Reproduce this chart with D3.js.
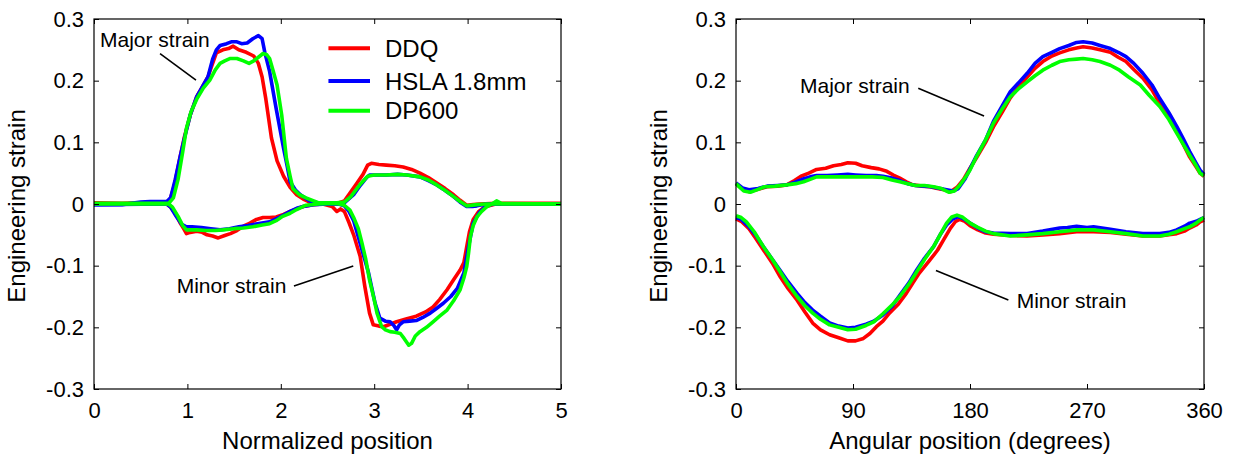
<!DOCTYPE html>
<html><head><meta charset="utf-8">
<script src="https://cdn.jsdelivr.net/npm/d3@7"></script>
<style>
html,body{margin:0;padding:0;background:#fff;}
text{font-family:"Liberation Sans",Arial,Helvetica,sans-serif;fill:#000;}
</style></head>
<body><svg id="chart" width="1239" height="456"></svg>
<script>
// ---------- data ----------
const seriesNames = ["DDQ", "HSLA 1.8mm", "DP600"];
const seriesColors = ["#ff0000", "#0000ff", "#00ff00"];
const yTicks = [-0.3, -0.2, -0.1, 0, 0.1, 0.2, 0.3];
const xTicksLeft = [0, 1, 2, 3, 4, 5];
const xTicksRight = [0, 90, 180, 270, 360];

// Left panel: [normalized position, strain]
const leftMajorDDQ = [[0,0.002],[0.3,0.001],[0.5,0.002],[0.75,0.003],[0.81,0.005],[0.86,0.03],[0.92,0.075],[0.97,0.11],[1.03,0.144],[1.10,0.174],[1.16,0.19],[1.22,0.206],[1.27,0.228],[1.31,0.245],[1.38,0.25],[1.44,0.252],[1.49,0.256],[1.55,0.25],[1.63,0.246],[1.71,0.24],[1.76,0.228],[1.80,0.206],[1.84,0.17],[1.90,0.107],[1.96,0.07],[2.03,0.045],[2.10,0.027],[2.17,0.015],[2.24,0.008],[2.31,0.003],[2.45,0.001],[2.6,0.001],[2.68,0.005],[2.75,0.02],[2.82,0.035],[2.88,0.048],[2.93,0.063],[2.97,0.066],[3.05,0.064],[3.13,0.063],[3.22,0.062],[3.31,0.06],[3.40,0.056],[3.49,0.05],[3.58,0.043],[3.67,0.034],[3.76,0.025],[3.85,0.015],[3.92,0.006],[3.99,-0.002],[4.06,-0.001],[4.13,0],[4.3,0.001],[5,0.001]];
const leftMinorDDQ = [[0,0],[0.5,0],[0.78,0],[0.82,-0.005],[0.87,-0.015],[0.92,-0.03],[0.96,-0.04],[0.99,-0.048],[1.03,-0.046],[1.10,-0.044],[1.16,-0.046],[1.21,-0.05],[1.27,-0.052],[1.33,-0.055],[1.40,-0.051],[1.46,-0.048],[1.53,-0.043],[1.60,-0.036],[1.67,-0.031],[1.74,-0.025],[1.81,-0.022],[1.88,-0.022],[1.95,-0.021],[2.03,-0.017],[2.10,-0.012],[2.17,-0.008],[2.24,-0.004],[2.35,-0.001],[2.45,0],[2.55,-0.004],[2.60,-0.012],[2.64,-0.008],[2.68,-0.012],[2.73,-0.03],[2.78,-0.05],[2.85,-0.085],[2.90,-0.134],[2.95,-0.177],[2.99,-0.196],[3.05,-0.198],[3.10,-0.199],[3.17,-0.195],[3.24,-0.191],[3.35,-0.186],[3.45,-0.182],[3.55,-0.175],[3.63,-0.167],[3.70,-0.155],[3.78,-0.139],[3.85,-0.123],[3.92,-0.107],[3.96,-0.095],[3.99,-0.07],[4.02,-0.045],[4.06,-0.025],[4.12,-0.012],[4.18,-0.005],[4.25,-0.002],[4.3,0],[5,0]];
const leftMajorHSLA = [[0,-0.001],[0.3,-0.001],[0.5,0.003],[0.6,0.004],[0.78,0.004],[0.82,0.01],[0.87,0.04],[0.92,0.075],[0.97,0.108],[1.03,0.144],[1.10,0.174],[1.16,0.19],[1.22,0.206],[1.27,0.235],[1.31,0.25],[1.35,0.257],[1.42,0.26],[1.47,0.263],[1.53,0.263],[1.58,0.26],[1.64,0.261],[1.70,0.268],[1.76,0.273],[1.80,0.268],[1.83,0.245],[1.88,0.215],[1.95,0.155],[2.03,0.09],[2.07,0.06],[2.10,0.036],[2.16,0.022],[2.21,0.015],[2.31,0.005],[2.45,0],[2.6,0],[2.68,0.002],[2.78,0.015],[2.85,0.03],[2.92,0.043],[2.95,0.047],[3.05,0.047],[3.13,0.047],[3.25,0.048],[3.35,0.047],[3.49,0.044],[3.58,0.038],[3.67,0.031],[3.76,0.022],[3.85,0.012],[3.92,0.003],[3.99,-0.004],[4.05,-0.004],[4.10,-0.003],[4.2,0],[5,0]];
const leftMinorHSLA = [[0,-0.001],[0.78,0],[0.82,-0.005],[0.88,-0.02],[0.94,-0.033],[0.99,-0.037],[1.05,-0.037],[1.15,-0.038],[1.25,-0.04],[1.35,-0.042],[1.45,-0.04],[1.55,-0.037],[1.65,-0.035],[1.75,-0.032],[1.88,-0.029],[1.95,-0.024],[2.03,-0.018],[2.1,-0.012],[2.17,-0.007],[2.24,-0.004],[2.35,-0.001],[2.5,0],[2.62,0],[2.68,-0.003],[2.73,-0.012],[2.78,-0.027],[2.85,-0.064],[2.94,-0.112],[3.01,-0.161],[3.06,-0.185],[3.12,-0.19],[3.17,-0.191],[3.21,-0.197],[3.24,-0.204],[3.27,-0.196],[3.31,-0.191],[3.38,-0.19],[3.45,-0.189],[3.52,-0.184],[3.60,-0.177],[3.67,-0.169],[3.74,-0.161],[3.82,-0.15],[3.89,-0.137],[3.96,-0.112],[4.01,-0.069],[4.06,-0.031],[4.13,-0.013],[4.2,-0.003],[4.28,0],[5,0]];
const leftMajorDP600 = [[0,0.001],[0.5,0.001],[0.8,0.001],[0.85,0.01],[0.9,0.04],[0.95,0.085],[0.99,0.123],[1.04,0.15],[1.10,0.17],[1.17,0.188],[1.24,0.201],[1.30,0.218],[1.35,0.228],[1.40,0.232],[1.46,0.236],[1.53,0.236],[1.60,0.232],[1.66,0.228],[1.71,0.232],[1.76,0.238],[1.81,0.244],[1.85,0.242],[1.88,0.236],[1.92,0.215],[1.96,0.193],[2.01,0.144],[2.06,0.074],[2.10,0.045],[2.13,0.025],[2.2,0.015],[2.27,0.01],[2.4,0.002],[2.6,0.002],[2.68,0.003],[2.75,0.012],[2.85,0.032],[2.93,0.045],[3.0,0.047],[3.13,0.047],[3.25,0.048],[3.35,0.047],[3.49,0.044],[3.58,0.039],[3.67,0.031],[3.76,0.022],[3.85,0.012],[3.92,0.004],[3.99,-0.003],[4.1,-0.001],[4.2,0],[5,0]];
const leftMinorDP600 = [[0,0],[0.8,0],[0.84,-0.005],[0.9,-0.02],[0.95,-0.035],[0.99,-0.042],[1.1,-0.042],[1.2,-0.043],[1.3,-0.043],[1.38,-0.042],[1.5,-0.04],[1.6,-0.039],[1.7,-0.037],[1.8,-0.034],[1.88,-0.032],[1.95,-0.027],[2.02,-0.02],[2.1,-0.015],[2.17,-0.009],[2.27,-0.002],[2.4,0],[2.6,0.001],[2.68,-0.002],[2.74,-0.01],[2.78,-0.022],[2.83,-0.04],[2.87,-0.064],[2.91,-0.09],[2.95,-0.123],[3.0,-0.155],[3.03,-0.177],[3.08,-0.199],[3.12,-0.204],[3.17,-0.207],[3.22,-0.208],[3.28,-0.21],[3.32,-0.218],[3.37,-0.229],[3.40,-0.226],[3.44,-0.214],[3.49,-0.207],[3.56,-0.2],[3.63,-0.191],[3.7,-0.182],[3.78,-0.172],[3.85,-0.157],[3.92,-0.139],[3.96,-0.12],[3.99,-0.102],[4.01,-0.08],[4.03,-0.053],[4.06,-0.035],[4.10,-0.021],[4.15,-0.012],[4.2,-0.005],[4.26,0],[4.31,0.005],[4.36,0.001],[5,0]];

// Right panel: [angle in degrees, strain]
const rightMajorDDQ = [[0,0.033],[5,0.024],[10,0.02],[17,0.024],[24,0.028],[32,0.029],[39,0.031],[45,0.038],[50,0.045],[56,0.05],[62,0.056],[69,0.058],[75,0.062],[81,0.064],[86,0.067],[92,0.066],[97,0.062],[104,0.059],[110,0.057],[116,0.053],[121,0.047],[126,0.042],[131,0.036],[136,0.031],[143,0.029],[149,0.028],[155,0.025],[160,0.023],[165,0.02],[170,0.027],[175,0.04],[180,0.058],[185,0.075],[192,0.1],[198,0.125],[205,0.15],[211,0.172],[218,0.192],[224,0.206],[230,0.22],[236,0.231],[243,0.24],[249,0.245],[256,0.25],[262,0.253],[267,0.255],[274,0.253],[280,0.25],[288,0.246],[294,0.238],[300,0.231],[306,0.218],[313,0.204],[320,0.185],[326,0.163],[333,0.14],[339,0.118],[344,0.097],[349,0.076],[354,0.06],[357,0.05],[360,0.045]];
const rightMajorHSLA = [[0,0.034],[5,0.026],[10,0.023],[17,0.025],[24,0.029],[32,0.03],[39,0.031],[45,0.035],[51,0.04],[57,0.044],[62,0.046],[70,0.046],[78,0.047],[86,0.048],[92,0.047],[100,0.046],[108,0.046],[113,0.045],[120,0.042],[126,0.038],[132,0.033],[138,0.03],[145,0.029],[150,0.028],[157,0.025],[162,0.023],[167,0.021],[171,0.025],[176,0.04],[180,0.057],[185,0.078],[192,0.104],[198,0.134],[205,0.16],[211,0.182],[218,0.198],[224,0.212],[230,0.228],[236,0.239],[243,0.246],[249,0.252],[256,0.257],[262,0.262],[267,0.263],[274,0.261],[280,0.257],[288,0.252],[294,0.246],[300,0.239],[306,0.228],[313,0.212],[320,0.193],[326,0.171],[333,0.148],[339,0.126],[344,0.106],[349,0.085],[354,0.066],[357,0.055],[360,0.048]];
const rightMajorDP600 = [[0,0.033],[3,0.027],[6,0.021],[11,0.019],[16,0.023],[22,0.028],[30,0.029],[39,0.031],[46,0.033],[52,0.036],[57,0.04],[62,0.044],[70,0.044],[78,0.044],[86,0.044],[95,0.044],[105,0.044],[113,0.043],[120,0.039],[126,0.036],[132,0.033],[138,0.03],[145,0.03],[152,0.028],[158,0.025],[164,0.019],[168,0.021],[172,0.03],[177,0.045],[180,0.055],[185,0.077],[192,0.104],[198,0.131],[205,0.155],[211,0.174],[218,0.188],[224,0.198],[230,0.208],[236,0.217],[243,0.225],[249,0.231],[256,0.234],[262,0.235],[267,0.236],[274,0.234],[280,0.231],[288,0.225],[295,0.217],[302,0.206],[311,0.193],[318,0.176],[326,0.158],[333,0.137],[339,0.115],[344,0.097],[349,0.079],[354,0.062],[357,0.05],[360,0.046]];
const rightMinorDDQ = [[0,-0.024],[4,-0.028],[10,-0.04],[15,-0.055],[21,-0.074],[28,-0.096],[34,-0.118],[40,-0.137],[47,-0.156],[53,-0.175],[59,-0.193],[65,-0.204],[72,-0.212],[79,-0.217],[86,-0.222],[92,-0.222],[98,-0.218],[103,-0.21],[108,-0.199],[113,-0.19],[118,-0.177],[125,-0.162],[131,-0.145],[136,-0.128],[141,-0.112],[148,-0.094],[155,-0.075],[160,-0.057],[165,-0.039],[169,-0.028],[172,-0.025],[176,-0.028],[180,-0.035],[186,-0.042],[192,-0.047],[198,-0.049],[211,-0.051],[224,-0.052],[236,-0.05],[249,-0.048],[262,-0.045],[275,-0.045],[288,-0.046],[300,-0.049],[313,-0.052],[326,-0.052],[333,-0.05],[339,-0.048],[345,-0.044],[349,-0.039],[354,-0.034],[357,-0.029],[360,-0.026]];
const rightMinorHSLA = [[0,-0.022],[4,-0.025],[10,-0.037],[15,-0.05],[21,-0.069],[28,-0.09],[34,-0.108],[40,-0.126],[47,-0.145],[53,-0.16],[59,-0.172],[65,-0.182],[72,-0.193],[79,-0.198],[86,-0.201],[92,-0.2],[100,-0.195],[106,-0.19],[113,-0.18],[120,-0.166],[126,-0.148],[133,-0.128],[139,-0.107],[145,-0.088],[152,-0.069],[157,-0.05],[162,-0.034],[167,-0.024],[171,-0.02],[175,-0.024],[180,-0.031],[186,-0.039],[192,-0.045],[198,-0.047],[211,-0.048],[224,-0.048],[236,-0.044],[249,-0.039],[255,-0.038],[262,-0.036],[270,-0.038],[275,-0.037],[288,-0.041],[300,-0.045],[313,-0.048],[326,-0.048],[333,-0.046],[339,-0.042],[345,-0.036],[349,-0.031],[354,-0.028],[357,-0.025],[360,-0.022]];
const rightMinorDP600 = [[0,-0.019],[4,-0.022],[8,-0.029],[14,-0.045],[21,-0.069],[28,-0.09],[34,-0.11],[40,-0.13],[47,-0.15],[53,-0.165],[59,-0.177],[65,-0.187],[72,-0.196],[79,-0.2],[86,-0.204],[92,-0.203],[100,-0.197],[106,-0.191],[113,-0.178],[120,-0.164],[126,-0.15],[133,-0.13],[139,-0.11],[145,-0.09],[152,-0.069],[157,-0.05],[162,-0.031],[166,-0.021],[170,-0.018],[174,-0.021],[180,-0.031],[186,-0.038],[192,-0.044],[198,-0.048],[211,-0.052],[224,-0.05],[236,-0.048],[249,-0.045],[262,-0.042],[275,-0.042],[288,-0.045],[300,-0.048],[313,-0.052],[326,-0.052],[333,-0.049],[339,-0.045],[345,-0.04],[349,-0.037],[354,-0.031],[357,-0.026],[360,-0.022]];

// ---------- drawing ----------
const svg = d3.select("#chart");
const plotTop = 19, plotBottom = 389;

function panel(opts) {
  const x = d3.scaleLinear().domain(opts.xDomain).range([opts.left, opts.right]);
  const y = d3.scaleLinear().domain([-0.3, 0.3]).range([plotBottom, plotTop]);
  const g = svg.append("g");
  const fmtY = d => d === 0 ? "0" : d3.format(".1f")(d).replace("\u2212", "-");

  const line = d3.line().x(d => x(d[0])).y(d => y(d[1]));
  opts.series.forEach((pair, i) => {
    pair.forEach(data => {
      g.append("path").datum(data)
        .attr("d", line)
        .attr("fill", "none")
        .attr("stroke", seriesColors[i])
        .attr("stroke-width", 3.6)
        .attr("stroke-linejoin", "round");
    });
  });

  const fs = "22px";
  const ax = g.append("g").attr("transform", `translate(0,${plotBottom})`)
    .call(d3.axisBottom(x).tickValues(opts.xTicks).tickFormat(d3.format("d")).tickSizeInner(-5).tickSizeOuter(0).tickPadding(13));
  const at = g.append("g").attr("transform", `translate(0,${plotTop})`)
    .call(d3.axisTop(x).tickValues(opts.xTicks).tickSizeInner(-5).tickSizeOuter(0).tickFormat(""));
  const al = g.append("g").attr("transform", `translate(${opts.left},0)`)
    .call(d3.axisLeft(y).tickValues(yTicks).tickSizeInner(-5).tickSizeOuter(0).tickPadding(10).tickFormat(fmtY));
  const ar = g.append("g").attr("transform", `translate(${opts.right},0)`)
    .call(d3.axisRight(y).tickValues(yTicks).tickSizeInner(-5).tickSizeOuter(0).tickFormat(""));
  [ax, at, al, ar].forEach(a => {
    a.select(".domain").remove();
    a.selectAll("line").attr("stroke", "#000").attr("stroke-width", 1);
    a.selectAll("text").attr("font-size", fs).attr("font-family", '"Liberation Sans", Arial, sans-serif').attr("fill", "#000");
  });
  g.append("rect").attr("x", opts.left).attr("y", plotTop)
    .attr("width", opts.right - opts.left).attr("height", plotBottom - plotTop)
    .attr("fill", "none").attr("stroke", "#000").attr("stroke-width", 1.2);

  g.append("text").attr("x", (opts.left + opts.right) / 2).attr("y", 449)
    .attr("text-anchor", "middle").attr("font-size", "24px").text(opts.xLabel);
  g.append("text").attr("transform", `translate(${opts.left - 69},${(plotTop + plotBottom) / 2 + 2}) rotate(-90)`)
    .attr("text-anchor", "middle").attr("font-size", "24px").text("Engineering strain");

  opts.notes.forEach(n => {
    g.append("text").attr("x", x(n.tx)).attr("y", y(n.ty)).attr("font-size", "21px").text(n.text);
    g.append("line").attr("x1", x(n.l[0])).attr("y1", y(n.l[1])).attr("x2", x(n.l[2])).attr("y2", y(n.l[3]))
      .attr("stroke", "#000").attr("stroke-width", 1.6);
  });

  return {x, y, g};
}

const L = panel({
  left: 94, right: 561, xDomain: [0, 5], xTicks: xTicksLeft, xLabel: "Normalized position",
  series: [[leftMajorDDQ, leftMinorDDQ], [leftMajorHSLA, leftMinorHSLA], [leftMajorDP600, leftMinorDP600]],
  notes: [
    {text: "Major strain", tx: 0.064, ty: 0.255, l: [0.707, 0.244, 1.092, 0.201]},
    {text: "Minor strain", tx: 0.885, ty: -0.144, l: [2.141, -0.133, 2.776, -0.1005]}
  ]
});

panel({
  left: 736, right: 1204, xDomain: [0, 360], xTicks: xTicksRight, xLabel: "Angular position (degrees)",
  series: [[rightMajorDDQ, rightMinorDDQ], [rightMajorHSLA, rightMinorHSLA], [rightMajorDP600, rightMinorDP600]],
  notes: [
    {text: "Major strain", tx: 49.2, ty: 0.1805, l: [140.2, 0.1876, 190.8, 0.1427]},
    {text: "Minor strain", tx: 215.9, ty: -0.169, l: [153.8, -0.108, 209.5, -0.1557]}
  ]
});

const legendY = [0.2525, 0.1994, 0.1513];
seriesNames.forEach((name, i) => {
  L.g.append("line").attr("x1", L.x(2.51)).attr("x2", L.x(2.955))
    .attr("y1", L.y(legendY[i])).attr("y2", L.y(legendY[i]))
    .attr("stroke", seriesColors[i]).attr("stroke-width", 4);
  L.g.append("text").attr("x", L.x(3.116)).attr("y", L.y(legendY[i])).attr("dy", "0.36em")
    .attr("font-size", "24px").text(name);
});
</script></body></html>
